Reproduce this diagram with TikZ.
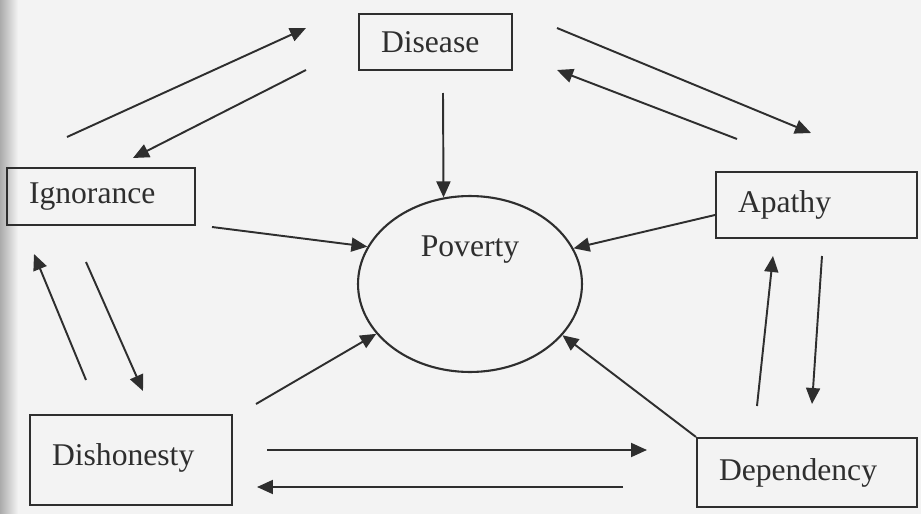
\documentclass[tikz,border=0pt]{standalone}
\usepackage{fontspec}
\setmainfont{Liberation Serif}
\usetikzlibrary{arrows.meta, shapes.geometric, calc}
\definecolor{cink}{HTML}{2E2E2E}
\definecolor{cpaper}{HTML}{F3F3F3}
\definecolor{cedge}{HTML}{ABABAB}
\tikzset{
  every picture/.style={line width=1.1pt},
  box/.style={draw=cink, line width=1.2pt, text=cink, align=left, inner xsep=0.44cm, inner ysep=0pt, font=\fontsize{18}{22}\selectfont},
  oval/.style={draw=cink, line width=1.2pt, ellipse, minimum width=4.48cm, minimum height=3.52cm, inner sep=0pt},
  arrow/.style={-{Triangle[length=0.32cm, width=0.28cm]}, draw=cink, line width=1.1pt},
  label/.style={text=cink, font=\fontsize{18}{22}\selectfont},
}
\begin{document}
\begin{tikzpicture}[x=0.02cm, y=-0.02cm]
  \useasboundingbox (0,0) rectangle (921,514);
  \fill[cpaper] (0,0) rectangle (921,514);
  \shade[left color=cedge, right color=cpaper] (0,0) rectangle (18,514);

  \node[box, text width=2.18cm, minimum height=1.12cm] (dis) at (435.5,42) {Disease};
  \node[box, text width=2.88cm, minimum height=1.14cm] (ign) at (101,196.5) {Ignorance};
  \node[box, text width=3.14cm, minimum height=1.32cm] (apa) at (816.5,205) {Apathy};
  \node[box, text width=3.16cm, minimum height=1.8cm] (dsh) at (131,460) {\raisebox{0.2cm}{Dishonesty}};
  \node[box, text width=3.52cm, minimum height=1.38cm] (dep) at (807,472.5) {Dependency};
  \node[oval] (pov) at (470,284) {};
  \node[label] (povtext) at (470,250) {Poverty};

  \coordinate (a1s) at (67,137);   \coordinate (a1e) at (306,28);
  \coordinate (a2s) at (306,70);   \coordinate (a2e) at (133,158);
  \coordinate (a3s) at (443,93);
  \coordinate (a4s) at (212,227);
  \coordinate (a5s) at (557,28);   \coordinate (a5e) at (811,133);
  \coordinate (a6s) at (737,139);  \coordinate (a6e) at (557,70);
  \coordinate (a8s) at (86,380);   \coordinate (a8e) at (34,254);
  \coordinate (a9s) at (86,262);   \coordinate (a9e) at (143,391);
  \coordinate (a10s) at (256,404);
  \coordinate (a11s) at (267,450); \coordinate (a11e) at (647,450);
  \coordinate (a12s) at (623,487); \coordinate (a12e) at (257,487);
  \coordinate (a14s) at (757,406); \coordinate (a14e) at (773,256);
  \coordinate (a15s) at (822,256); \coordinate (a15e) at (812,404);

  \draw[arrow] (a1s) -- (a1e);
  \draw[arrow] (a2s) -- (a2e);
  \draw[arrow] (a3s) -- (pov.107);
  \draw[arrow] (a4s) -- (pov.160);
  \draw[arrow] (a5s) -- (a5e);
  \draw[arrow] (a6s) -- (a6e);
  \draw[arrow] ($(apa.west)+(0,10)$) -- (pov.19);
  \draw[arrow] (a8s) -- (a8e);
  \draw[arrow] (a9s) -- (a9e);
  \draw[arrow] (a10s) -- (pov.208);
  \draw[arrow] (a11s) -- (a11e);
  \draw[arrow] (a12s) -- (a12e);
  \draw[arrow] (dep.north west) -- (pov.331);
  \draw[arrow] (a14s) -- (a14e);
  \draw[arrow] (a15s) -- (a15e);
\end{tikzpicture}
\end{document}
